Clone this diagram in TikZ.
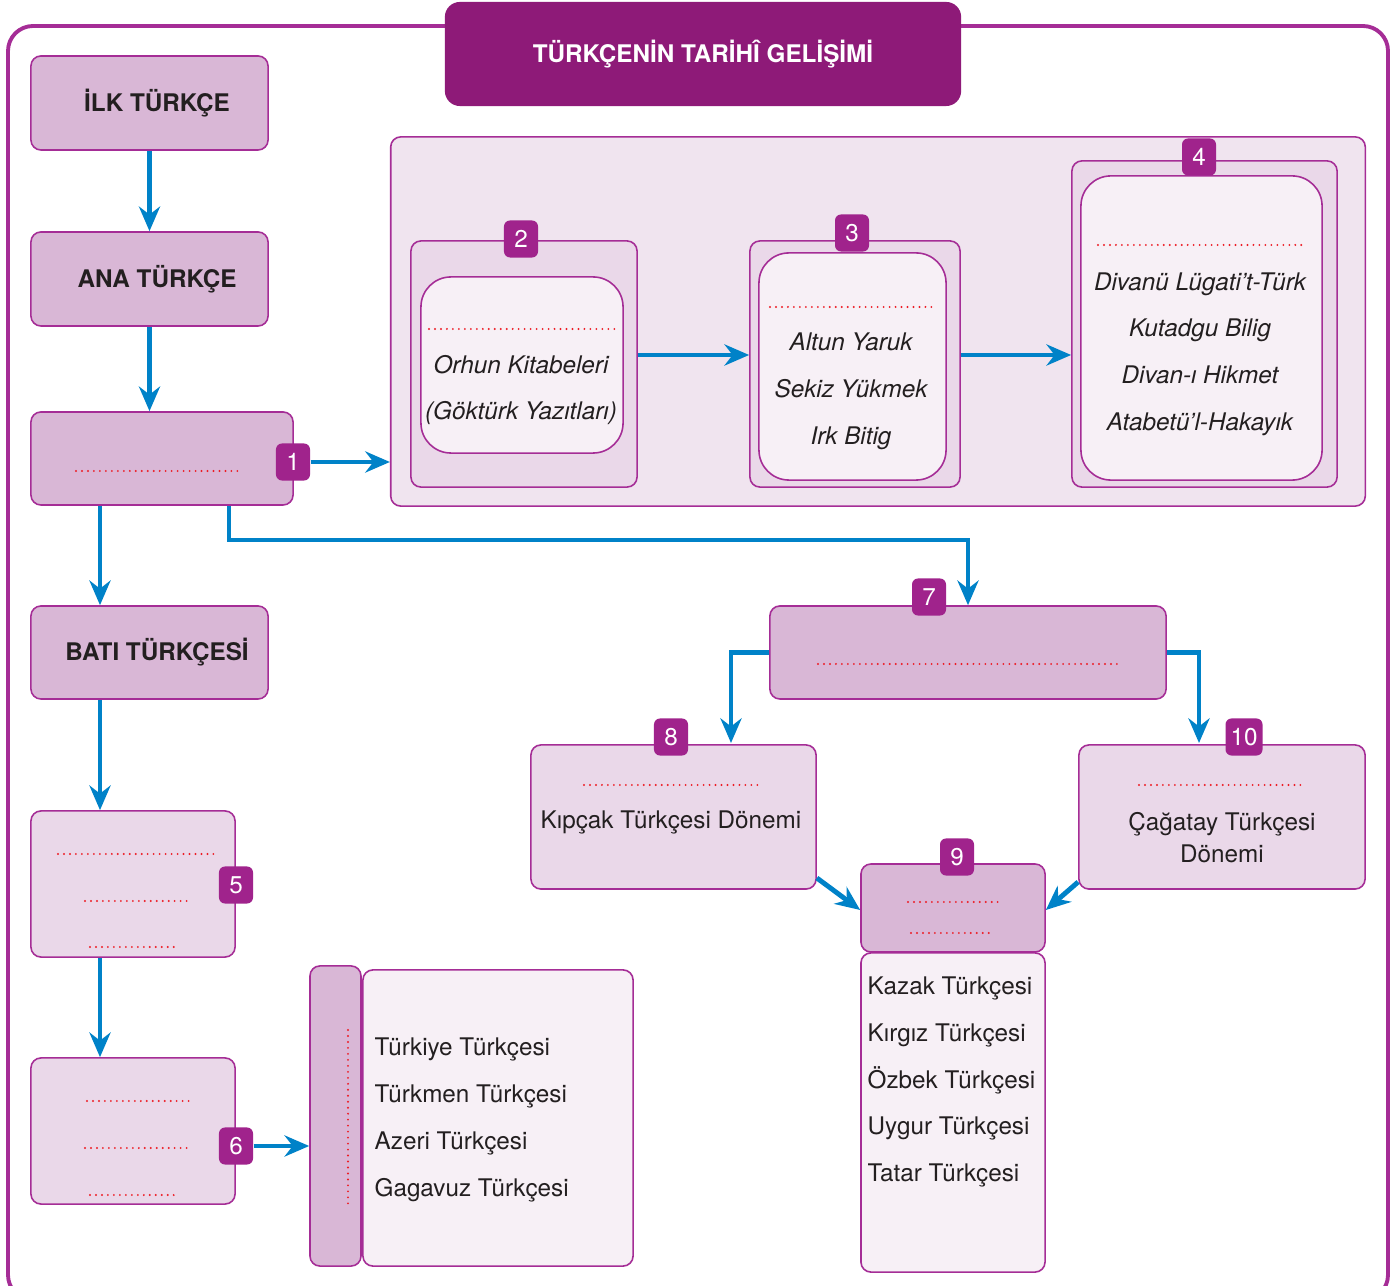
\documentclass[tikz,border=0pt]{standalone}
\usepackage{fontspec}
\setmainfont{TeX Gyre Heros}
\usetikzlibrary{arrows.meta,positioning}

\definecolor{mor}{RGB}{165,45,150}
\definecolor{koyumor}{RGB}{142,26,120}
\definecolor{rozetrenk}{RGB}{160,35,140}
\definecolor{pembe}{RGB}{217,183,214}
\definecolor{acik}{RGB}{234,216,233}
\definecolor{zemin}{RGB}{240,228,239}
\definecolor{beyazimsi}{RGB}{247,240,246}
\definecolor{mavi}{RGB}{0,130,200}
\definecolor{kirmizi}{RGB}{237,28,36}
\definecolor{yazirengi}{RGB}{35,31,32}

\newcommand{\kucukyazi}{\fontsize{6.9}{13.3}\selectfont}

\tikzset{
  kutu/.style={draw=mor, line width=0.45pt, rounded corners=0.1cm, fill=pembe,
    inner sep=0pt, text=yazirengi, font=\kucukyazi},
  orta/.style={kutu, fill=acik},
  zeminkutu/.style={kutu, fill=zemin},
  ickutu/.style={kutu, fill=beyazimsi, rounded corners=0.3cm},
  listekutu/.style={kutu, fill=beyazimsi},
  boyut/.style 2 args={minimum width=#1cm, minimum height=#2cm},
  rozet/.style={fill=rozetrenk, rounded corners=0.06cm, text=white, inner sep=0pt,
    minimum width=0.34cm, minimum height=0.37cm, font=\kucukyazi},
  ok/.style={draw=mavi, line width=1.4pt, -{Stealth[length=7pt, width=6pt, inset=2.3pt]}},
  nokta/.style={draw=kirmizi, line width=0.6pt, line cap=round, dash pattern=on 0pt off 1.7pt},
  eser/.style={font=\kucukyazi\itshape, text=yazirengi, align=center},
  dil/.style={font=\kucukyazi, text=yazirengi, align=left, anchor=west, inner sep=0pt},
}

\begin{document}
\begin{tikzpicture}[x=0.01cm, y=-0.01cm]
  \useasboundingbox (0,0) rectangle (1397,1286);

  % cerceve ve baslik
  \draw[mor, line width=1.1pt, rounded corners=0.25cm] (8,26) rectangle (1388,1300);
  \node[fill=koyumor, rounded corners=0.15cm, boyut={5.16}{1.04}, text=white,
    font=\kucukyazi\bfseries] (baslik) at (703,54) {TÜRKÇENİN TARİHÎ GELİŞİMİ};

  % sol sutun
  \node[kutu, boyut={2.37}{0.94}, font=\kucukyazi\bfseries] (ilk) at (149.5,103) {\hspace{0.15cm}İLK TÜRKÇE};
  \node[kutu, boyut={2.37}{0.94}, font=\kucukyazi\bfseries] (ana) at (149.5,279) {\hspace{0.15cm}ANA TÜRKÇE};
  \node[kutu, boyut={2.62}{0.93}] (kok) at (162,458.5) {};
  \node[kutu, boyut={2.37}{0.93}, font=\kucukyazi\bfseries] (bati) at (149.5,652.5) {\hspace{0.15cm}BATI TÜRKÇESİ};
  \node[orta, boyut={2.04}{1.46}] (b5) at (133,884) {};
  \node[orta, boyut={2.04}{1.46}] (b6) at (133,1131) {};
  \node[kutu, boyut={0.51}{3.00}] (yan) at (335.5,1116) {};
  \node[listekutu, boyut={2.70}{2.96}] (liste6) at (498,1118) {};

  % eserler
  \node[zeminkutu, boyut={9.74}{3.69}] (panel) at (878,321.5) {};
  \node[orta, boyut={2.26}{2.46}] (d2) at (524,364) {};
  \node[ickutu, boyut={2.02}{1.76}] (i2) at (522,365) {};
  \node[orta, boyut={2.10}{2.46}] (d3) at (855,364) {};
  \node[ickutu, boyut={1.87}{2.27}] (i3) at (852.5,366.5) {};
  \node[orta, boyut={2.65}{3.26}] (d4) at (1204.5,324) {};
  \node[ickutu, boyut={2.41}{3.04}] (i4) at (1201.5,328) {};

  % dogu turkcesi
  \node[kutu, boyut={3.96}{0.93}] (b7) at (968,652.5) {};
  \node[orta, boyut={2.85}{1.44}] (b8) at (673.5,817) {};
  \node[orta, boyut={2.86}{1.44}] (b10) at (1222,817) {};
  \node[listekutu, boyut={1.84}{3.19}] (liste9) at (953,1112.5) {};
  \node[kutu, boyut={1.84}{0.88}] (b9) at (953,908) {};

  % metinler
  \node[eser] (t2) at (521,390) {Orhun Kitabeleri\\(Göktürk Yazıtları)};
  \node[eser] (t3) at (851,391.5) {Altun Yaruk\\Sekiz Yükmek\\Irk Bitig};
  \node[eser] (t4) at (1200,354) {Divanü Lügati’t-Türk\\Kutadgu Bilig\\Divan-ı Hikmet\\Atabetü’l-Hakayık};
  \node[dil] (t6) at (374,1120) {Türkiye Türkçesi\\Türkmen Türkçesi\\Azeri Türkçesi\\Gagavuz Türkçesi};
  \node[dil] (t9) at (867,1082) {Kazak Türkçesi\\Kırgız Türkçesi\\Özbek Türkçesi\\Uygur Türkçesi\\Tatar Türkçesi};
  \node[font=\kucukyazi, text=yazirengi] (t8) at (671,822) {Kıpçak Türkçesi Dönemi};
  \node[font=\fontsize{6.9}{9.1}\selectfont, text=yazirengi, align=center] (t10) at (1222,838) {Çağatay Türkçesi\\Dönemi};

  % bos birakilan yerler
  \draw[nokta] (76,471) -- (240,471);
  \draw[nokta] (429,329) -- (615,329);
  \draw[nokta] (770,307) -- (933,307);
  \draw[nokta] (1098,245) -- (1303,245);
  \draw[nokta] (58,854) -- (217,854);
  \draw[nokta] (85,901) -- (190,901);
  \draw[nokta] (90,947) -- (178,947);
  \draw[nokta] (87,1101) -- (189,1101);
  \draw[nokta] (85,1148) -- (189,1148);
  \draw[nokta] (90,1195) -- (178,1195);
  \draw[nokta] (348,1030) -- (348,1205);
  \draw[nokta] (818,664) -- (1122,664);
  \draw[nokta] (584,785) -- (760,785);
  \draw[nokta] (1139,785) -- (1306,785);
  \draw[nokta] (908,902) -- (1003,902);
  \draw[nokta] (911,933) -- (993,933);

  % numaralar
  \node[rozet] (r1) at (293,462) {1};
  \node[rozet] (r2) at (521,239) {2};
  \node[rozet] (r3) at (852,233) {3};
  \node[rozet] (r4) at (1199,157) {4};
  \node[rozet] (r5) at (236,885) {5};
  \node[rozet] (r6) at (236,1146) {6};
  \node[rozet] (r7) at (929,597) {7};
  \node[rozet] (r8) at (671,737) {8};
  \node[rozet] (r9) at (957,857) {9};
  \node[rozet, minimum width=0.37cm] (r10) at (1244,737) {10};

  % oklar
  \coordinate (sol) at (100,0);
  \coordinate (orta) at (0,355);
  \coordinate (ayrim) at (229,540);
  \coordinate (k8) at (731,743);
  \coordinate (k10) at (1199,743);
  \coordinate (g8) at (816,878);
  \coordinate (g10) at (1079,882);
  \coordinate (h9) at (0,910);
  \draw[ok] (ilk) -- (ana);
  \draw[ok] (ana.south) -- (ana.south |- kok.north);
  \draw[ok] (r1) -- (r1 -| panel.west);
  \draw[ok] (d2.east |- orta) -- (d3.west |- orta);
  \draw[ok] (d3.east |- orta) -- (d4.west |- orta);
  \draw[ok] (kok.south -| sol) -- (bati.north -| sol);
  \draw[ok] (bati.south -| sol) -- (b5.north -| sol);
  \draw[ok] (b5.south -| sol) -- (b6.north -| sol);
  \draw[ok] (r6) -- (r6 -| yan.west);
  \draw[ok] (kok.south -| ayrim) -- (ayrim) -| (b7.north);
  \draw[ok] (b7.west) -| (k8);
  \draw[ok] (b7.east) -| (k10);
  \draw[ok] (b8.east |- g8) -- (b9.west |- h9);
  \draw[ok] (b10.west |- g10) -- (b9.east |- h9);
\end{tikzpicture}
\end{document}
